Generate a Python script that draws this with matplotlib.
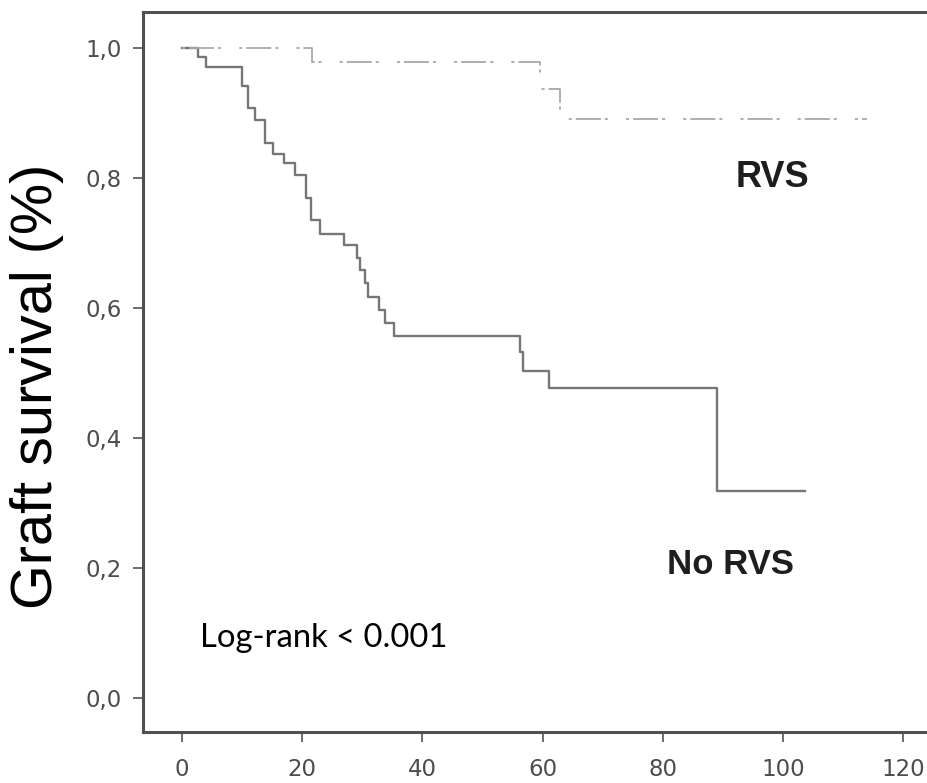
import matplotlib
matplotlib.use("Agg")
import matplotlib.pyplot as plt

# Kaplan-Meier estimates (months, survival fraction)
norvs_time = [0, 2.7, 4.0, 9.9, 11.0, 12.1, 13.8, 15.2, 16.9, 18.8, 20.7, 21.5, 23.0,
              26.9, 29.1, 29.6, 30.5, 31.0, 32.7, 33.8, 35.2, 56.2, 56.8, 61.0, 89.0]
norvs_surv = [1.0, 0.985, 0.971, 0.941, 0.907, 0.889, 0.853, 0.837, 0.822, 0.804, 0.768,
              0.735, 0.714, 0.696, 0.676, 0.658, 0.638, 0.617, 0.596, 0.576, 0.556,
              0.532, 0.503, 0.476, 0.318]
norvs_last = 103.7

rvs_time = [0, 21.6, 59.6, 62.9]
rvs_surv = [1.0, 0.978, 0.937, 0.890]
rvs_last = 113.9

xticks = [0, 20, 40, 60, 80, 100, 120]
yticks = [0.0, 0.2, 0.4, 0.6, 0.8, 1.0]
ytick_labels = ["0,0", "0,2", "0,4", "0,6", "0,8", "1,0"]

plt.rcParams["lines.scale_dashes"] = False

fig = plt.figure(figsize=(9.27, 7.83), dpi=100)
ax = fig.add_axes([143 / 927, 1 - 732 / 783, (940 - 143) / 927, (732 - 12) / 783])

ax.step(norvs_time + [norvs_last], norvs_surv + [norvs_surv[-1]], where="post",
        color="#767676", lw=1.7)
ax.step(rvs_time + [rvs_last], rvs_surv + [rvs_surv[-1]], where="post",
        color="#a8a8a8", lw=1.3, dashes=(2.2, 2.9, 18, 2.9, 2.2, 13))

ax.set_xlim(-6.5, 126.1)
ax.set_ylim(-0.053, 1.055)
ax.set_xticks(xticks)
ax.set_yticks(yticks)
ax.set_yticklabels(ytick_labels)

for sp in ax.spines.values():
    sp.set_linewidth(2.2)
    sp.set_color("#505050")

ax.tick_params(axis="both", direction="out", length=7.5, width=1.3, color="#606060",
               labelsize=16.5, labelcolor="#4d4d4d")
ax.tick_params(axis="x", pad=11)
ax.tick_params(axis="y", pad=8)

ax.text(98.2, 0.80, "RVS", fontsize=26, fontweight="bold", family="Liberation Sans",
        color="#1e1e1e", ha="center", va="center")
ax.text(91.2, 0.205, "No RVS", fontsize=25, fontweight="bold", family="Liberation Sans",
        color="#1e1e1e", ha="center", va="center")
ax.text(3, 0.092, "Log-rank < 0.001", fontsize=23.6, family="Lato", color="black",
        ha="left", va="center")

fig.text(37 / 927, 1 - 386 / 783, "Graft survival (%)", rotation=90, fontsize=41.5,
         family="Liberation Sans", ha="center", va="center")

fig.savefig("out.png", dpi=100, facecolor="white")
